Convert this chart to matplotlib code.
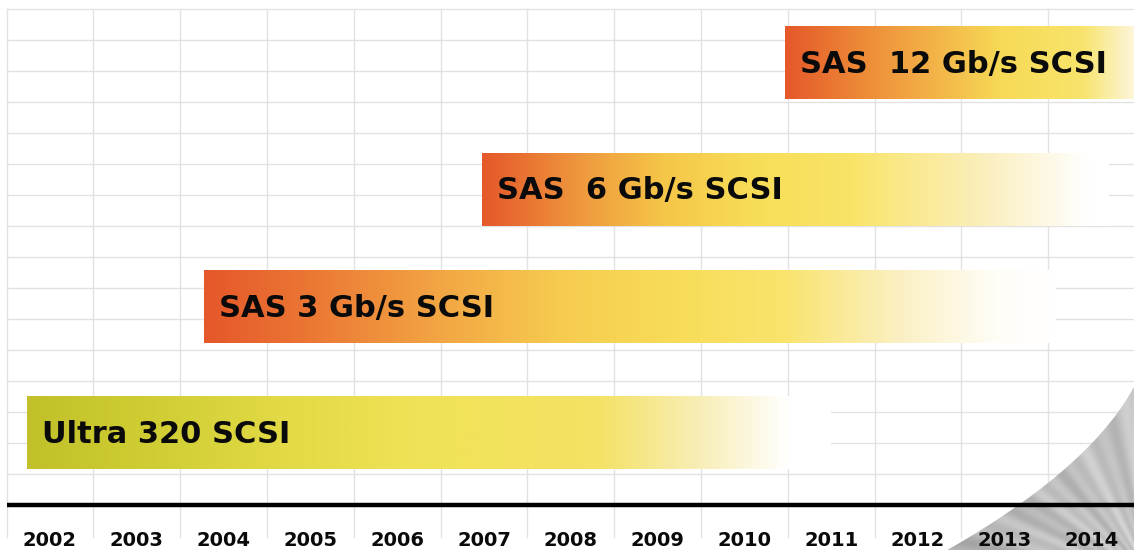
import numpy as np
import matplotlib
matplotlib.use("Agg")
import matplotlib.pyplot as plt
from matplotlib.colors import LinearSegmentedColormap
from matplotlib.patches import Polygon

# ── data ────────────────────────────────────────────────────────────────
years = [2002, 2003, 2004, 2005, 2006, 2007, 2008, 2009, 2010, 2011, 2012, 2013, 2014]
labels = ["Ultra 320 SCSI", "SAS 3 Gb/s SCSI", "SAS  6 Gb/s SCSI", "SAS  12 Gb/s SCSI"]
starts = [2001.74, 2003.77, 2006.98, 2010.47]
ends = [2011.0, 2013.58, 2014.2, 2014.5]
lanes = [2.34, 6.40, 10.18, 14.27]      # lane centres, in grid rows above the baseline
bar_h = 2.33

# colour stops per bar (fraction of bar length, colour)
stops = [
    [(0.0, "#c2c02a"), (0.12, "#cccb30"), (0.32, "#e2da46"), (0.48, "#f0e256"),
     (0.71, "#f4e264"), (0.84, "#f8eeb8"), (0.95, "#ffffff"), (1.0, "#ffffff")],
    [(0.0, "#e5582a"), (0.12, "#eb7634"), (0.27, "#f2a443"), (0.42, "#f6cc50"),
     (0.55, "#f8dc58"), (0.68, "#f9e46c"), (0.82, "#fbf0c4"), (0.93, "#fffdf6"),
     (1.0, "#ffffff")],
    [(0.0, "#e5582a"), (0.16, "#ef9a3e"), (0.29, "#f5c648"), (0.44, "#f8de58"),
     (0.59, "#f9e468"), (0.82, "#fbf0c4"), (0.97, "#ffffff"), (1.0, "#ffffff")],
    [(0.0, "#e5582a"), (0.2, "#ec8636"), (0.38, "#f2aa44"), (0.62, "#f7da56"),
     (0.85, "#f8e46c"), (1.0, "#fdf6dc")],
]

# pixel -> data helpers (86.8 px per year, 31 px per grid row)
X0, PX_YEAR = 2002 - 50 / 86.8, 86.8
xlim = (X0, X0 + 1134 / PX_YEAR)
ylim = (-45 / 31, 505 / 31)

fig = plt.figure(figsize=(11.34, 5.5), dpi=100)
ax = fig.add_axes([0, 0, 1, 1])
ax.set_xlim(*xlim)
ax.set_ylim(*ylim)
ax.axis("off")

# grid
for k in range(1, 17):
    ax.plot([years[0] - 0.5, xlim[1]], [k, k], color="#e2e2e2", lw=1.0, zorder=1)
for yr in years:
    ax.plot([yr - 0.5, yr - 0.5], [-1.03, 16], color="#e2e2e2", lw=1.0, zorder=1)

# grey swoosh in the lower right corner (decoration)
edge_px_x = np.array([947, 1020, 1057, 1093, 1117, 1134])
edge_px_y = np.array([550, 505, 474, 443, 413, 387])
fit = np.polyfit(edge_px_y, edge_px_x, 2)
py = np.linspace(550, 387, 60)
px = np.polyval(fit, py)
cx = X0 + px / PX_YEAR
cy = (505 - py) / 31
poly = np.column_stack([np.r_[cx, xlim[1]], np.r_[cy, ylim[0]]])
patch = Polygon(poly, closed=True, facecolor="none", edgecolor="none")
ax.add_patch(patch)
gx, gy = np.meshgrid(np.linspace(0, 1, 300), np.linspace(0, 1, 200))
ang = np.arctan2(gy + 0.2, 1.1 - gx)
tex = 0.70 + 0.035 * np.sin(ang * 45) + 0.03 * np.sin(ang * 17 + 1) + 0.07 * gx
im = ax.imshow(tex, extent=[cx[0], xlim[1], ylim[0], cy[-1]], origin="lower",
               cmap="gray", vmin=0, vmax=1, aspect="auto", zorder=2,
               interpolation="bilinear")
im.set_clip_path(patch)

# bars with gradients
grad = np.linspace(0, 1, 512).reshape(1, -1)
for lab, s, e, yc, st in zip(labels, starts, ends, lanes, stops):
    cmap = LinearSegmentedColormap.from_list("g", st)
    ax.imshow(grad, extent=[s, e, yc - bar_h / 2, yc + bar_h / 2], cmap=cmap,
              aspect="auto", zorder=3, interpolation="bilinear")
    ax.text(s + 15 / PX_YEAR, yc - 0.05, lab, fontsize=22, fontweight="bold",
            family="DejaVu Sans", ha="left", va="center", color="#0a0a0a", zorder=4)

# baseline + year labels
ax.plot([years[0] - 0.5, xlim[1]], [0, 0], color="black", lw=3.2, zorder=4,
        solid_capstyle="butt")
for yr in years:
    ax.text(yr, -1.13, str(yr), fontsize=14, fontweight="bold", family="DejaVu Sans",
            ha="center", va="center", color="#0a0a0a", zorder=4)

ax.set_xlim(*xlim)
ax.set_ylim(*ylim)
fig.savefig("out.png", dpi=100)
